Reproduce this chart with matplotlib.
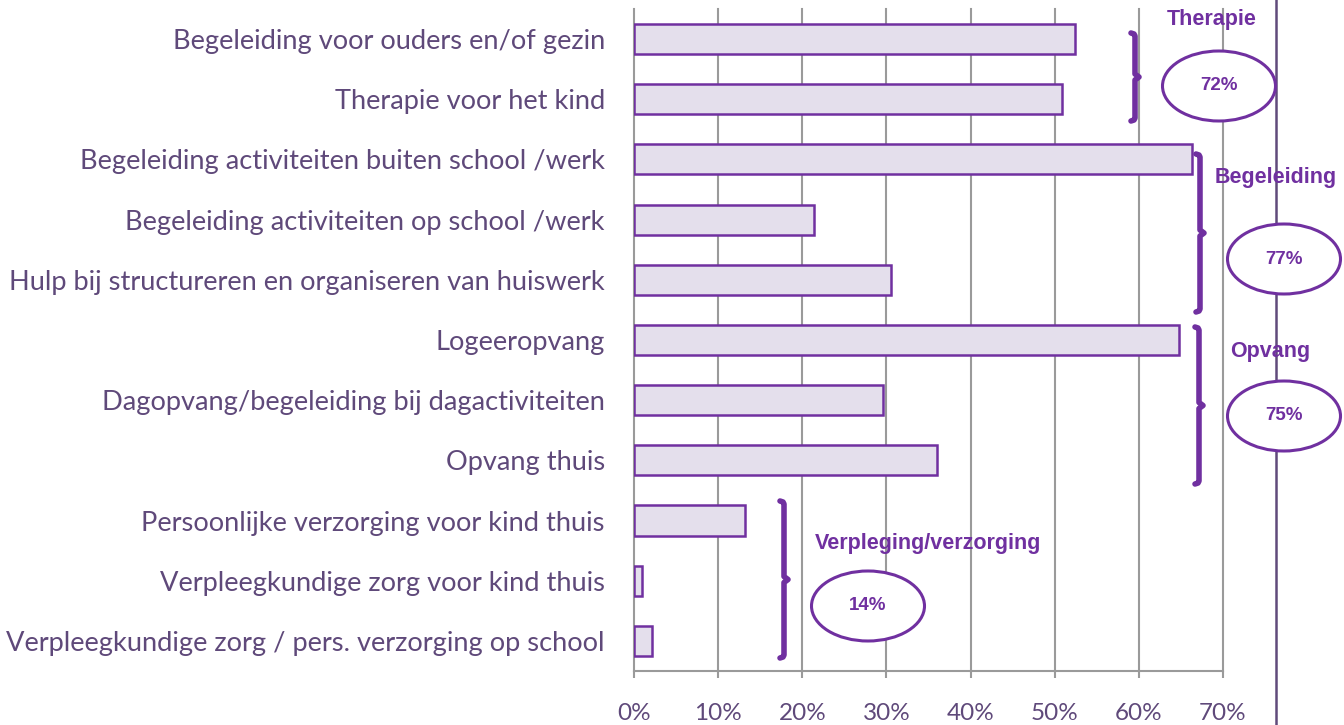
import matplotlib.pyplot as plt
from matplotlib.patches import Ellipse
import numpy as np

categories = [
    "Begeleiding voor ouders en/of gezin",
    "Therapie voor het kind",
    "Begeleiding activiteiten buiten school /werk",
    "Begeleiding activiteiten op school /werk",
    "Hulp bij structureren en organiseren van huiswerk",
    "Logeeropvang",
    "Dagopvang/begeleiding bij dagactiviteiten",
    "Opvang thuis",
    "Persoonlijke verzorging voor kind thuis",
    "Verpleegkundige zorg voor kind thuis",
    "Verpleegkundige zorg / pers. verzorging op school",
]
values = [52.4, 50.9, 66.3, 21.4, 30.6, 64.8, 29.6, 36.0, 13.2, 1.0, 2.1]

ticks = [0, 10, 20, 30, 40, 50, 60, 70]
tick_labels = ["0%", "10%", "20%", "30%", "40%", "50%", "60%", "70%"]

# groepen met hun totaal
group_names = ["Therapie", "Begeleiding", "Opvang", "Verpleging/verzorging"]
group_totals = ["72%", "77%", "75%", "14%"]

purple = "#7030A0"
text_col = "#5F497A"
grid_col = "#9A9A9A"

plt.rcParams["font.family"] = ["Lato", "DejaVu Sans"]

fig = plt.figure(figsize=(13.44, 7.25), dpi=100)
ax = fig.add_axes([634 / 1344, 54 / 725, (1223 - 634) / 1344, (671 - 9) / 725])

y = np.arange(len(categories))
ax.barh(y, values, height=0.5, color="#E4DFEC", edgecolor=purple, linewidth=1.8, zorder=3)

ax.set_xlim(0, 70)
ax.set_ylim(len(categories) - 0.5, -0.5)
ax.set_xticks(ticks)
ax.set_xticklabels(tick_labels)
ax.set_yticks(y)
ax.set_yticklabels(categories)
ax.tick_params(axis="y", length=0, pad=21, labelsize=19.6, labelcolor=text_col)
ax.tick_params(axis="x", length=5, width=1.5, color=grid_col, pad=18, labelsize=17.5, labelcolor=text_col)
for t in ticks:
    ax.axvline(t, color=grid_col, linewidth=1.5, zorder=0, clip_on=False)
for side in ["top", "right", "left"]:
    ax.spines[side].set_visible(False)
ax.spines["bottom"].set_color(grid_col)
ax.spines["bottom"].set_linewidth(1.5)

# verticale lijn rechts
fig.add_artist(plt.Line2D([1276 / 1344, 1276 / 1344], [0, 1], color="#604A7B", linewidth=1.8, zorder=1))


def px(x_pix, y_pix):
    # pixel (vanaf linksboven) naar figuur-coordinaten
    return x_pix / 1344, 1 - y_pix / 725


def bracket(x, top, bot, dx=4, dy=3):
    mid = (top + bot) / 2
    xs = [x - dx, x - 1, x, x, x + dx, x, x, x - 1, x - dx]
    ys = [top, top + 1, top + dy, mid - dy, mid, mid + dy, bot - dy, bot - 1, bot]
    pts = [px(a, b) for a, b in zip(xs, ys)]
    fig.add_artist(plt.Line2D([p[0] for p in pts], [p[1] for p in pts], color=purple,
                              linewidth=4, solid_joinstyle="round", solid_capstyle="round", zorder=5))


bracket(1135, 33, 121)
bracket(1200, 154, 312)
bracket(1199, 327, 484)
bracket(784, 501, 658)

label_pos = [(1212, 20), (1276, 178), (1270, 352), (928, 543)]
ellipse_pos = [(1219, 86), (1284, 259), (1284, 416), (868, 606)]
for name, total, (lx, ly), (ex, ey) in zip(group_names, group_totals, label_pos, ellipse_pos):
    fx, fy = px(lx, ly)
    fig.text(fx, fy, name, ha="center", va="center", fontsize=15.5, fontweight="bold",
             color=purple, family=["Liberation Sans", "DejaVu Sans"], zorder=6)
    cx, cy = px(ex, ey)
    fig.add_artist(Ellipse((cx, cy), 113 / 1344, 70 / 725, facecolor="white", edgecolor=purple,
                           linewidth=2.2, zorder=5))
    fig.text(cx, cy, total, ha="center", va="center", fontsize=13.5, fontweight="bold",
             color=purple, family=["Liberation Sans", "DejaVu Sans"], zorder=6)

fig.savefig("out.png", dpi=100)
